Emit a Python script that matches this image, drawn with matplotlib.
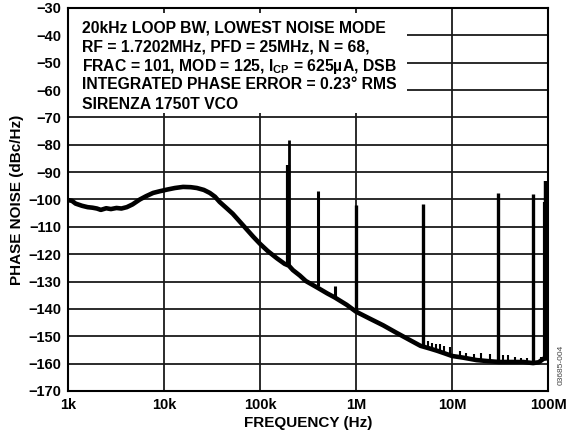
import matplotlib
matplotlib.use("Agg")
import matplotlib.pyplot as plt
from matplotlib.patches import Rectangle

plt.rcParams['font.family'] = ['Liberation Sans', 'DejaVu Sans']
plt.rcParams['font.weight'] = 'bold'
plt.rcParams['mathtext.default'] = 'regular'

# Main phase-noise trace (Hz, dBc/Hz)
freq = [1000, 1100, 1200, 1400, 1600, 1800, 2000, 2200, 2500, 2800, 3200, 3600,
        4100, 4700, 5600, 6500, 7700, 9000, 10700, 13000, 15800, 19000, 22000,
        26000, 30000, 34000, 38000, 45000, 52000, 62000, 73000, 85000, 100000,
        120000, 150000, 180000, 200000, 220000, 260000, 300000, 400000, 500000,
        600000, 800000, 1e6, 1.4e6, 1.92e6, 2.6e6, 3.6e6, 4.7e6, 5.9e6, 7e6,
        8e6, 10e6, 13e6, 18e6, 24e6, 31e6, 40e6, 55e6, 70e6, 80e6, 90e6, 100e6]
noise = [-100.2, -100.5, -101.5, -102.3, -102.8, -103.0, -103.3, -103.8, -103.2,
         -103.5, -103.1, -103.3, -102.8, -101.8, -100.0, -98.8, -97.6, -97.0,
         -96.4, -95.8, -95.4, -95.5, -95.8, -96.5, -97.6, -99.0, -100.9, -103.2,
         -105.2, -108.2, -111.0, -113.6, -116.2, -118.8, -121.5, -123.5, -124.2,
         -125.8, -127.8, -129.8, -132.3, -134.3, -135.8, -138.5, -141.0, -143.6,
         -146.0, -148.6, -151.3, -153.5, -154.5, -155.3, -156.0, -157.2, -157.8,
         -158.7, -159.1, -159.4, -159.4, -159.4, -159.8, -159.5, -158.2, -158.0]

# Large spurs: frequency, base level, peak level
spur_f = [200e3, 197e3, 400e3, 600e3, 1e6, 5e6, 30e6, 70e6, 92e6, 96e6]
spur_base = [-124.0, -124.0, -131.5, -135.5, -141.0, -154.0, -159.4, -159.8, -158.5, -158.2]
spur_peak = [-78.2, -87.5, -96.8, -131.5, -102.0, -101.6, -97.5, -98.0, -101.0, -93.1]
spur_lw = [2.0, 3.0, 2.2, 2.2, 2.4, 2.4, 2.4, 2.4, 3.0, 3.2]

# Small spurs in the noise floor
small_f = [5.6e6, 6.2e6, 6.8e6, 7.5e6, 8.2e6, 9.5e6, 12e6, 14e6, 17e6, 20e6,
           25e6, 34e6, 38e6, 45e6, 52e6, 60e6, 85e6]
small_base = [-154.5, -155.0, -155.3, -155.6, -156.0, -156.8, -157.6, -158.0,
              -158.5, -158.8, -159.1, -159.4, -159.4, -159.4, -159.4, -159.5, -159.0]
small_top = [-151.8, -152.5, -153.0, -153.0, -153.5, -154.0, -155.5, -156.0,
             -156.5, -156.0, -156.5, -157.0, -157.0, -157.5, -158.0, -158.0, -157.5]

xticks = [1e3, 1e4, 1e5, 1e6, 1e7, 1e8]
xtick_labels = ['1k', '10k', '100k', '1M', '10M', '100M']
yticks = list(range(-170, -29, 10))

info_lines = [
    "20kHz LOOP BW, LOWEST NOISE MODE",
    "RF = 1.7202MHz, PFD = 25MHz, N = 68,",
    r"FRAC = 101, MOD = 125, I$_{\mathregular{CP}}$ = 625µA, DSB",
    "INTEGRATED PHASE ERROR = 0.23° RMS",
    "SIRENZA 1750T VCO",
]

fig = plt.figure(figsize=(5.68, 4.37), dpi=100)
ax = fig.add_axes([0.1197, 0.1053, 0.8451, 0.8764])
ax.set_xscale('log')
ax.set_xlim(1e3, 1e8)
ax.set_ylim(-170, -30)
ax.set_axisbelow(True)
ax.grid(True, which='major', color='#1a1a1a', lw=1.3)
ax.minorticks_off()
ax.set_xticks(xticks)
ax.set_xticklabels(xtick_labels)
ax.set_yticks(yticks)
ax.set_yticklabels([str(v).replace('-', '\u2212') for v in yticks])
ax.tick_params(length=0, pad=5, labelsize=10.5)
for s in ax.spines.values():
    s.set_linewidth(1.5)
    s.set_color('black')

ax.plot(freq, noise, color='black', lw=3.3, solid_joinstyle='round', zorder=3)
for f, b, p, w in zip(spur_f, spur_base, spur_peak, spur_lw):
    ax.plot([f, f], [b, p], color='black', lw=w, zorder=3, solid_capstyle='butt')
for f, b, p in zip(small_f, small_base, small_top):
    ax.plot([f, f], [b, p], color='black', lw=1.5, zorder=3, solid_capstyle='butt')

ax.add_patch(Rectangle((0.003, 0.726), 0.703, 0.261, transform=ax.transAxes,
                       facecolor='white', edgecolor='none', zorder=1))
ys = [0.9355, 0.8853, 0.8355, 0.7877, 0.7355]
for t, y in zip(info_lines, ys):
    ax.text(0.029, y, t, transform=ax.transAxes, fontsize=11.3, fontweight='bold',
            va='baseline', ha='left', zorder=4)

ax.set_xlabel('FREQUENCY (Hz)', fontsize=11, fontweight='bold', labelpad=3)
ax.set_ylabel('PHASE NOISE (dBc/Hz)', fontsize=11, fontweight='bold', labelpad=3)

fig.text(0.988, 0.165, '03685-004', rotation=90, fontsize=6, fontweight='normal',
         color='#444444', ha='center', va='center')

fig.savefig('out.png', dpi=100)
